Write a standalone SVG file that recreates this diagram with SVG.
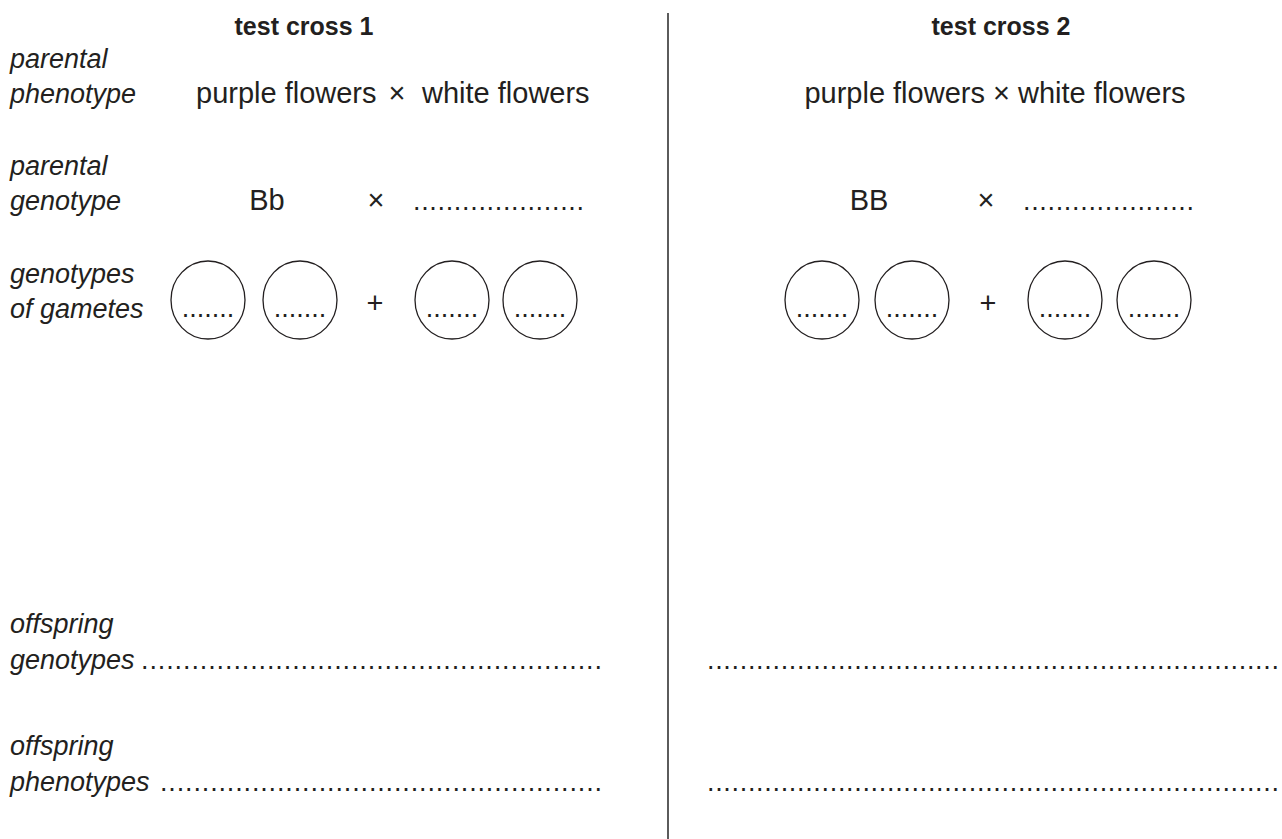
<svg xmlns="http://www.w3.org/2000/svg" width="1282" height="839" viewBox="0 0 1282 839">
<style>
text{font-family:"Liberation Sans",Arial,sans-serif;font-size:29px;fill:#231f20}
.t{font-weight:bold;font-size:25px;text-anchor:middle}
.i{font-style:italic;font-size:27px}
.m{text-anchor:middle}
.e{text-anchor:end}
.d{font-size:27px}
.g{fill:none;stroke:#231f20;stroke-width:1.3}
</style>
<rect width="1282" height="839" fill="#fff"/>
<g id="divider"><line x1="668" y1="13" x2="668" y2="839" stroke="#333" stroke-width="1.6"/></g>
<g id="labels">
<text class="i" x="10" y="68">parental</text>
<text class="i" x="10" y="103">phenotype</text>
<text class="i" x="10" y="175">parental</text>
<text class="i" x="10" y="210">genotype</text>
<text class="i" x="10" y="283">genotypes</text>
<text class="i" x="10" y="318">of gametes</text>
<text class="i" x="10" y="633">offspring</text>
<text class="i" x="10" y="669">genotypes</text>
<text class="i" x="10" y="755">offspring</text>
<text class="i" x="10" y="791">phenotypes</text>
</g>
<g id="cross1">
<text class="t" x="304" y="35">test cross 1</text>
<text x="196" y="103">purple flowers</text>
<text class="m" x="397" y="103">×</text>
<text x="422" y="103">white flowers</text>
<text class="m" x="267" y="210">Bb</text>
<text class="m" x="376" y="210">×</text>
<text class="d" x="413" y="210" textLength="171" lengthAdjust="spacing">.....................</text>
<g id="gametes1">
<ellipse class="g" cx="208" cy="300" rx="37" ry="39"/>
<ellipse class="g" cx="300" cy="300" rx="37" ry="39"/>
<ellipse class="g" cx="452" cy="300" rx="37" ry="39"/>
<ellipse class="g" cx="540" cy="300" rx="37" ry="39"/>
<text class="m d" x="208" y="317">.......</text>
<text class="m d" x="300" y="317">.......</text>
<text class="m" x="375" y="313">+</text>
<text class="m d" x="452" y="317">.......</text>
<text class="m d" x="540" y="317">.......</text>
</g>
<text class="d" x="141" y="669" textLength="461" lengthAdjust="spacing">.......................................................</text>
<text class="d" x="160" y="791" textLength="442" lengthAdjust="spacing">.....................................................</text>
</g>
<g id="cross2">
<text class="t" x="1001" y="35">test cross 2</text>
<text class="m" x="995" y="103">purple flowers × white flowers</text>
<text class="m" x="869" y="210">BB</text>
<text class="m" x="986" y="210">×</text>
<text class="d" x="1023" y="210" textLength="171" lengthAdjust="spacing">.....................</text>
<g id="gametes2">
<ellipse class="g" cx="822" cy="300" rx="37" ry="39"/>
<ellipse class="g" cx="912" cy="300" rx="37" ry="39"/>
<ellipse class="g" cx="1065" cy="300" rx="37" ry="39"/>
<ellipse class="g" cx="1154" cy="300" rx="37" ry="39"/>
<text class="m d" x="822" y="317">.......</text>
<text class="m d" x="912" y="317">.......</text>
<text class="m" x="988" y="313">+</text>
<text class="m d" x="1065" y="317">.......</text>
<text class="m d" x="1154" y="317">.......</text>
</g>
<text class="d" x="707" y="669" textLength="572" lengthAdjust="spacing">......................................................................</text>
<text class="d" x="707" y="791" textLength="572" lengthAdjust="spacing">......................................................................</text>
</g>
</svg>
